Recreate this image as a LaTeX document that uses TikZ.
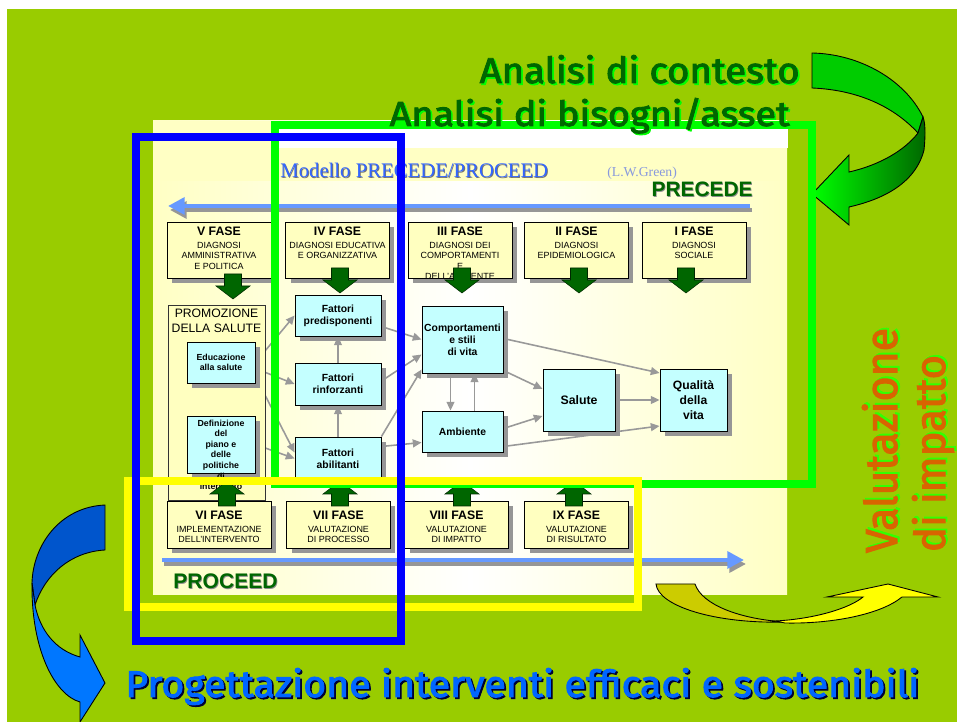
\documentclass[tikz,border=0pt]{standalone}
\usepackage{fontspec}
\setmainfont{Liberation Sans}
\newfontfamily\titlefont{Liberation Serif}
\newfontfamily\handfont[FakeBold=2.5]{Fira Sans}
\usetikzlibrary{arrows.meta,calc,shadows}

\definecolor{bggreen}{HTML}{99CC00}
\definecolor{panelcream}{HTML}{FFFFC4}
\definecolor{faseyellow}{HTML}{FFFFC0}
\definecolor{boxcyan}{HTML}{C4FFFF}
\definecolor{fasegreen}{HTML}{006600}
\definecolor{shadowgray}{HTML}{969696}
\definecolor{connGray}{HTML}{999999}
\definecolor{flowblue}{HTML}{6699FF}
\definecolor{titleblue}{HTML}{3366FF}
\definecolor{greenref}{HTML}{8899DD}
\definecolor{framegreen}{HTML}{00FF00}
\definecolor{frameblue}{HTML}{0000FF}
\definecolor{frameyellow}{HTML}{FFFF00}
\definecolor{handorange}{HTML}{D96400}
\definecolor{handblue}{HTML}{0066FF}

\pgfdeclarelayer{bg}
\pgfdeclarelayer{conn}
\pgfdeclarelayer{front}
\pgfsetlayers{bg,conn,main,front}

% text with a small drop shadow
\newcommand{\shadowtext}[3]{\makebox[0pt][l]{\kern0.45pt\raisebox{-0.45pt}{\textcolor{#2}{#3}}}\textcolor{#1}{#3}}
% title + subtitle of a phase box
\newcommand{\fasetext}[3]{\parbox[c][#1][t]{2.04cm}{\centering\fontsize{7pt}{8pt}\selectfont\textbf{#2}\par\vspace{1.2pt}\fontsize{5.1pt}{6pt}\selectfont #3\par}}

\tikzset{
  boxshadow/.style={drop shadow={shadow xshift=0.1cm, shadow yshift=-0.1cm, fill=shadowgray, opacity=1}},
  fase/.style={draw=black, line width=0.5pt, fill=faseyellow, inner sep=0pt, minimum width=2.08cm, boxshadow},
  topfase/.style={fase, minimum height=1.12cm},
  botfase/.style={fase, minimum height=0.94cm},
  cyanbox/.style={draw=black, line width=0.5pt, fill=boxcyan, inner sep=0pt, align=center, boxshadow, font=\bfseries\fontsize{5.9pt}{6.8pt}\selectfont},
  promobox/.style={draw=black!80, line width=0.5pt, fill=faseyellow, inner sep=0pt, minimum width=1.94cm, minimum height=3.9cm},
  conn/.style={draw=connGray, line width=0.9pt, -{Triangle[length=5pt,width=4.5pt]}},
  flowarrow/.style={draw=flowblue, line width=2.8pt, -{Triangle[length=9.5pt,width=9.5pt]}},
  flowshadow/.style={draw=shadowgray, line width=2.8pt, -{Triangle[length=9.5pt,width=9.5pt]}},
  selframe/.style={line width=4.6pt},
  curlarrow/.style={draw=black, line width=0.5pt},
  handtext/.style={inner sep=0pt, font=\handfont},
  fatarrow/.pic={\filldraw[fill=fasegreen, draw=black!60!fasegreen, line width=0.3pt] (0,0) -- (-17,-13) -- (-8.5,-13) -- (-8.5,-25) -- (8.5,-25) -- (8.5,-13) -- (17,-13) -- cycle;},
}

\begin{document}
\begin{tikzpicture}[x=0.02cm, y=-0.02cm]
    \useasboundingbox (0,0) rectangle (957,722);

    % Background and panel
    \begin{pgfonlayer}{bg}
    \fill[white] (0,0) rectangle (957,722);
    \fill[bggreen] (7,9) rectangle (957,722);
    \shade[left color=panelcream, right color=panelcream, middle color=white] (153,121) rectangle (787,595);
    \fill[panelcream] (153,121) rectangle (787,181);
    \fill[white] (278,128) rectangle (788,148);
    \end{pgfonlayer}

    % Title
    \node[anchor=base west, inner sep=0pt, font=\titlefont\fontsize{11.8pt}{12pt}\selectfont] (title) at (280,178) {\shadowtext{titleblue}{black!55}{Modello PRECEDE/PROCEED}};
    \node[anchor=base west, inner sep=0pt, text=greenref, font=\titlefont\fontsize{7.8pt}{8pt}\selectfont] (author) at (607,177) {(L.W.Green)};
    \node[anchor=base east, inner sep=0pt, font=\bfseries\fontsize{11.9pt}{12pt}\selectfont] (precede) at (753,197) {\shadowtext{fasegreen}{black!45}{PRECEDE}};
    \node[anchor=base west, inner sep=0pt, font=\bfseries\fontsize{12pt}{12pt}\selectfont] (proceed) at (173,589) {\shadowtext{fasegreen}{black!45}{PROCEED}};

    % Flow arrows
    \coordinate (precR) at (750,206);
    \coordinate (precL) at (168,206);
    \coordinate (procL) at (162,560);
    \coordinate (procR) at (744,560);
    \draw[flowshadow] ($(precR)+(2,4)$) -- ($(precL)+(2,4)$);
    \draw[flowarrow] (precR) -- (precL);
    \draw[flowshadow] ($(procL)+(2,4)$) -- ($(procR)+(2,4)$);
    \draw[flowarrow] (procL) -- (procR);

    % PRECEDE phases
    \node[topfase] (f5) at (219,250) {\fasetext{0.92cm}{V FASE}{DIAGNOSI\\AMMINISTRATIVA\\E POLITICA}};
    \node[topfase] (f4) at (337.5,250) {\fasetext{0.92cm}{IV FASE}{DIAGNOSI EDUCATIVA\\E ORGANIZZATIVA}};
    \node[topfase] (f3) at (460,250) {\fasetext{0.92cm}{III FASE}{DIAGNOSI DEI\\COMPORTAMENTI\\E\\DELL'AMBIENTE}};
    \node[topfase] (f2) at (576.5,250) {\fasetext{0.92cm}{II FASE}{DIAGNOSI\\EPIDEMIOLOGICA}};
    \node[topfase] (f1) at (694,250) {\fasetext{0.92cm}{I FASE}{DIAGNOSI\\SOCIALE}};

    % Model boxes
    \node[promobox] (promo) at (216.5,402.5) {\parbox[c][3.74cm][t]{1.9cm}{\centering\fontsize{6.95pt}{8.5pt}\selectfont PROMOZIONE\\DELLA SALUTE}};
    \node[cyanbox, minimum width=1.36cm, minimum height=0.82cm, font=\bfseries\fontsize{5pt}{5.7pt}\selectfont] (edu) at (221,362.5) {Educazione\\alla salute};
    \node[cyanbox, minimum width=1.36cm, minimum height=1.14cm, font=\bfseries\fontsize{5pt}{6pt}\selectfont] (defi) at (221,444.5) {\parbox[c][0.98cm][t]{1.34cm}{\centering Definizione\\del\\piano e\\delle\\politiche\\di\\intervento}};
    \node[cyanbox, minimum width=1.72cm, minimum height=0.82cm] (pred) at (338,315.5) {Fattori\\predisponenti};
    \node[cyanbox, minimum width=1.72cm, minimum height=0.84cm] (rinf) at (338,384) {Fattori\\rinforzanti};
    \node[cyanbox, minimum width=1.72cm, minimum height=0.86cm] (abil) at (338,458.5) {Fattori\\abilitanti};
    \node[cyanbox, minimum width=1.62cm, minimum height=1.34cm] (comp) at (462.5,339.5) {Comportamenti\\e stili\\di vita};
    \node[cyanbox, minimum width=1.62cm, minimum height=0.82cm] (amb) at (462.5,431.5) {Ambiente};
    \node[cyanbox, minimum width=1.44cm, minimum height=1.24cm, font=\bfseries\fontsize{7pt}{8.5pt}\selectfont] (sal) at (579,400) {Salute};
    \node[cyanbox, minimum width=1.34cm, minimum height=1.24cm, font=\bfseries\fontsize{6.9pt}{8.5pt}\selectfont] (qual) at (693.5,400) {Qualità\\della\\vita};

    % PROCEED phases
    \node[botfase] (f6) at (219,524.5) {\fasetext{0.54cm}{VI FASE}{IMPLEMENTAZIONE\\DELL'INTERVENTO}};
    \node[botfase] (f7) at (338.5,524.5) {\fasetext{0.54cm}{VII FASE}{VALUTAZIONE\\DI PROCESSO}};
    \node[botfase] (f8) at (456.5,524.5) {\fasetext{0.54cm}{VIII FASE}{VALUTAZIONE\\DI IMPATTO}};
    \node[botfase] (f9) at (576.5,524.5) {\fasetext{0.54cm}{IX FASE}{VALUTAZIONE\\DI RISULTATO}};

    % Green block arrows
    \pic at (233,299) {fatarrow};
    \pic at (340,293) {fatarrow};
    \pic at (462,293) {fatarrow};
    \pic at (579,293) {fatarrow};
    \pic at (686,293) {fatarrow};
    \pic[rotate=180] at (227,481) {fatarrow};
    \pic[rotate=180] at (340,481) {fatarrow};
    \pic[rotate=180] at (462,481) {fatarrow};
    \pic[rotate=180] at (574,481) {fatarrow};

    % Connectors
    \begin{pgfonlayer}{conn}
    \draw[conn] (edu.east) -- (pred.west);
    \draw[conn] ($(edu.east)+(0,6)$) -- (rinf.west);
    \draw[conn] ($(edu.east)+(0,14)$) -- ($(abil.west)+(0,-6)$);
    \draw[conn] (defi.east) -- (abil.west);
    \draw[conn] ($(edu.south)+(-4,0)$) -- ($(defi.north)+(-4,0)$);
    \draw[conn] ($(defi.north)+(10,0)$) -- ($(edu.south)+(10,0)$);
    \draw[conn] (rinf.north) -- (pred.south);
    \draw[conn] (abil.north) -- (rinf.south);
    \draw[conn] ($(pred.east)+(0,11)$) -- (comp.west);
    \draw[conn] ($(rinf.east)+(0,-3)$) -- ($(comp.west)+(0,15)$);
    \draw[conn] (abil.north east) -- ($(comp.west)+(0,30)$);
    \draw[conn] ($(abil.east)+(0,-12)$) -- ($(amb.west)+(0,11)$);
    \draw[conn] ($(comp.south)+(-12,0)$) -- ($(amb.north)+(-12,0)$);
    \draw[conn] ($(amb.north)+(12,0)$) -- ($(comp.south)+(12,0)$);
    \draw[conn] ($(comp.east)+(0,31)$) -- ($(sal.west)+(0,-11)$);
    \draw[conn] ($(comp.east)+(0,-1)$) -- ($(qual.west)+(0,-27)$);
    \draw[conn] ($(amb.east)+(0,-3)$) -- ($(sal.west)+(0,16)$);
    \draw[conn] ($(amb.east)+(0,15)$) -- ($(qual.west)+(0,26)$);
    \draw[conn] (sal.east) -- (qual.west);
    \end{pgfonlayer}

    % Curved arrows
    \filldraw[curlarrow, fill=green!80!black] (812,53) .. controls (860,54) and (905,80) .. (923,117) -- (918,133) .. controls (895,108) and (860,90) .. (812,88) -- cycle;
    \shadedraw[curlarrow, left color=framegreen, right color=fasegreen] (923,117) .. controls (926,125) and (925,140) .. (924,150) .. controls (915,185) and (880,200) .. (849,207) -- (849,225) -- (812,194) -- (849,155) -- (849,172) .. controls (880,165) and (905,150) .. (918,133) -- cycle;
    \filldraw[curlarrow, fill={rgb,255:red,0;green,85;blue,204}] (105,505) .. controls (60,507) and (33,545) .. (32,583) -- (35,605) .. controls (45,575) and (70,552) .. (105,550) -- cycle;
    \filldraw[curlarrow, fill={rgb,255:red,0;green,119;blue,255}] (32,583) .. controls (31,650) and (55,695) .. (80,702) -- (80,722) -- (105,683) -- (80,635) -- (80,657) .. controls (55,650) and (40,630) .. (35,605) -- cycle;
    \filldraw[curlarrow, fill={rgb,255:red,204;green,204;blue,0}] (656,584) -- (695,584) .. controls (702,605) and (740,619) .. (785,622) .. controls (715,624) and (658,606) .. (656,584) -- cycle;
    \filldraw[curlarrow, fill=frameyellow] (775,621) .. controls (815,619) and (850,608) .. (863,597) -- (827,597) -- (888,584) -- (938,597) -- (902,597) .. controls (880,615) and (830,624) .. (785,623) -- cycle;

    % Selection frames and captions
    \begin{pgfonlayer}{front}
    \draw[selframe, draw=framegreen, line width=4pt] (275,125) rectangle (812,484);
    \draw[selframe, draw=frameyellow] (128,481) rectangle (638,607);
    \draw[selframe, draw=frameblue] (136,137) rectangle (401,641);
    \node[handtext, anchor=base east] (contesto) at (800,83) {\resizebox{6.4cm}{0.56cm}{\shadowtext{fasegreen}{framegreen}{Analisi di contesto}}};
    \node[handtext, anchor=base east] (bisogni) at (790,126) {\resizebox{8cm}{0.56cm}{\shadowtext{fasegreen}{framegreen}{Analisi di bisogni/asset}}};
    \node[handtext, anchor=base, rotate=90] (val1) at (897,440.5) {\resizebox{4.5cm}{0.7cm}{\shadowtext{handorange}{green!80!yellow}{Valutazione}}};
    \node[handtext, anchor=base, rotate=90] (val2) at (945,453.5) {\resizebox{3.94cm}{0.66cm}{\shadowtext{handorange}{green!80!yellow}{di impatto}}};
    \node[handtext, anchor=base west] (progetto) at (125,697) {\resizebox{15.88cm}{0.58cm}{\shadowtext{handblue}{black!80!blue}{Progettazione interventi efficaci e sostenibili}}};
    \end{pgfonlayer}
\end{tikzpicture}
\end{document}
